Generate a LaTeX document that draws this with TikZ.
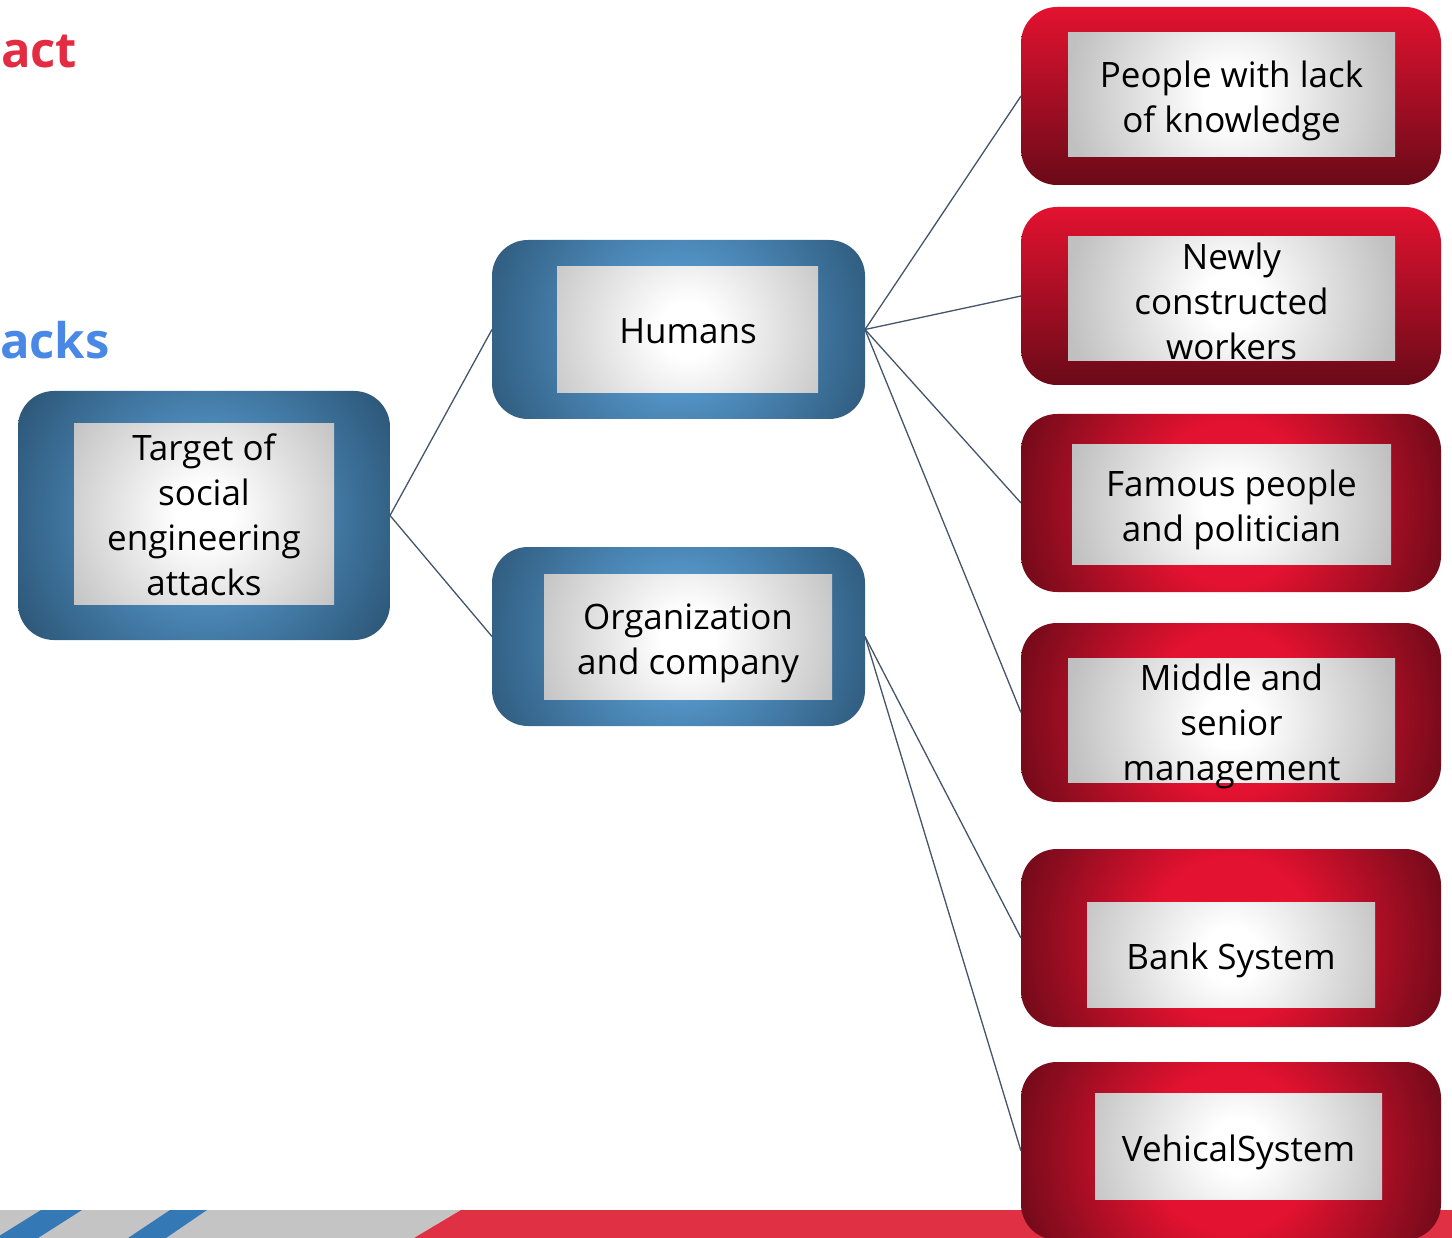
\documentclass[tikz,border=0pt]{standalone}
\usepackage{fontspec}
\setmainfont{Open Sans}
\usetikzlibrary{calc}

\definecolor{bluelight}{HTML}{5292C4}
\definecolor{bluedark}{HTML}{2C5677}
\definecolor{redbright}{HTML}{E31230}
\definecolor{redmid}{HTML}{BE1029}
\definecolor{reddark}{HTML}{6A0A18}
\definecolor{greyedge}{HTML}{C0C0C0}
\definecolor{linkslate}{HTML}{44546A}
\definecolor{titlered}{HTML}{E32C42}
\definecolor{titleblue}{HTML}{4A88E6}
\definecolor{bargrey}{HTML}{C4C4C4}
\definecolor{barred}{HTML}{E03043}
\definecolor{barblue}{HTML}{3479B5}

% radial fills with a bright plateau in the middle; the outer colour
% is reached before the rim so the disc always covers the whole box
\pgfdeclareradialshading{blueglow}{\pgfpointorigin}{%
  color(0bp)=(bluelight); color(6bp)=(bluelight);
  color(20bp)=(bluedark); color(50bp)=(bluedark)}
\pgfdeclareradialshading{redglow}{\pgfpointorigin}{%
  color(0bp)=(redbright); color(7bp)=(redbright);
  color(20bp)=(reddark); color(50bp)=(reddark)}
\pgfdeclareradialshading{paperglow}{\pgfpointorigin}{%
  color(0bp)=(white); color(3bp)=(white);
  color(18bp)=(greyedge); color(50bp)=(greyedge)}

\tikzset{
  x=1pt, y=-1pt,
  conn/.style={draw=linkslate, line width=1.3pt},
  outerbox/.style={rounded corners=36pt, inner sep=0pt, outer sep=0pt},
  bluebox/.style={outerbox, path picture={
      \shade[shading=blueglow] (path picture bounding box.center) circle (270);}},
  redglowbox/.style={outerbox, path picture={
      \shade[shading=redglow] (path picture bounding box.center) circle (288);}},
  redfallbox/.style={outerbox, top color=redbright, middle color=redmid,
      bottom color=reddark},
  paper/.style={inner sep=0pt, outer sep=0pt, path picture={
      \shade[shading=paperglow] (path picture bounding box.center) circle (230);}},
  label/.style={align=center, text=black, inner sep=0pt,
      font=\fontsize{35}{45}\selectfont},
  heading/.style={font=\fontsize{49}{60}\selectfont\bfseries, inner sep=0pt},
}

\begin{document}
\begin{tikzpicture}
\useasboundingbox (0,0) rectangle (1452,1238);
\begin{scope}
\clip (0,0) rectangle (1452,1238);

% slide headings
\node[heading, text=titlered, anchor=base west] (headA) at (1,68) {act};
\node[heading, text=titleblue, anchor=base west] (headB) at (0,359) {acks};

% footer band
\fill[bargrey] (0,1210) -- (461,1210) -- (414,1238) -- (0,1238) -- cycle;
\fill[barred] (461,1210) -- (1452,1210) -- (1452,1238) -- (414,1238) -- cycle;
\fill[barblue] (41,1210) -- (82,1210) -- (38,1238) -- (-4,1238) -- cycle;
\fill[barblue] (170,1210) -- (207,1210) -- (166,1238) -- (128,1238) -- cycle;

% root
\node[bluebox, minimum width=372, minimum height=249] (tgt) at (204,515.5) {};
\node[paper, minimum width=260, minimum height=180] (tgtp) at (204,514) {};
\node[label] (tgtt) at (204,515) {Target of\\social\\engineering\\attacks};

% second level
\node[bluebox, minimum width=373, minimum height=179] (hum) at (678.5,329.5) {};
\node[paper, minimum width=261, minimum height=126] (hump) at (687.5,330) {};
\node[label] (humt) at (688,331) {Humans};

\node[bluebox, minimum width=373, minimum height=179] (org) at (678.5,636.5) {};
\node[paper, minimum width=288, minimum height=125] (orgp) at (688,636.5) {};
\node[label] (orgt) at (688,643) {Organization\\and company};

% leaves
\node[redfallbox, minimum width=420, minimum height=178] (r1) at (1231,96) {};
\node[paper, minimum width=327, minimum height=124] (r1p) at (1231.5,95) {};
\node[label] (r1t) at (1231.5,101) {People with lack\\of knowledge};

\node[redfallbox, minimum width=420, minimum height=178] (r2) at (1231,296) {};
\node[paper, minimum width=327, minimum height=124] (r2p) at (1231.5,299) {};
\node[label] (r2t) at (1231.5,301) {Newly\\constructed\\workers};

\node[redglowbox, minimum width=420, minimum height=178] (r3) at (1231,503) {};
\node[paper, minimum width=319, minimum height=119] (r3p) at (1231.5,504.5) {};
\node[label] (r3t) at (1231.5,510) {Famous people\\and politician};

\node[redglowbox, minimum width=420, minimum height=179] (r4) at (1231,712.5) {};
\node[paper, minimum width=327, minimum height=124] (r4p) at (1231.5,720) {};
\node[label] (r4t) at (1231.5,726) {Middle and\\senior\\management};

\node[redglowbox, minimum width=420, minimum height=178] (r5) at (1231,938) {};
\node[paper, minimum width=288, minimum height=105] (r5p) at (1231,954.5) {};
\node[label] (r5t) at (1231,960) {Bank System};

\node[redglowbox, minimum width=420, minimum height=178] (r6) at (1231,1151) {};
\node[paper, minimum width=287, minimum height=106] (r6p) at (1238.5,1146) {};
\node[label] (r6t) at (1238.5,1152) {VehicalSystem};

% connectors
\draw[conn] (tgt.east) -- (hum.west);
\draw[conn] (tgt.east) -- (org.west);
\draw[conn] (hum.east) -- (r1.west);
\draw[conn] (hum.east) -- (r2.west);
\draw[conn] (hum.east) -- (r3.west);
\draw[conn] (hum.east) -- (r4.west);
\draw[conn] (org.east) -- (r5.west);
\draw[conn] (org.east) -- (r6.west);
\end{scope}
\end{tikzpicture}
\end{document}
